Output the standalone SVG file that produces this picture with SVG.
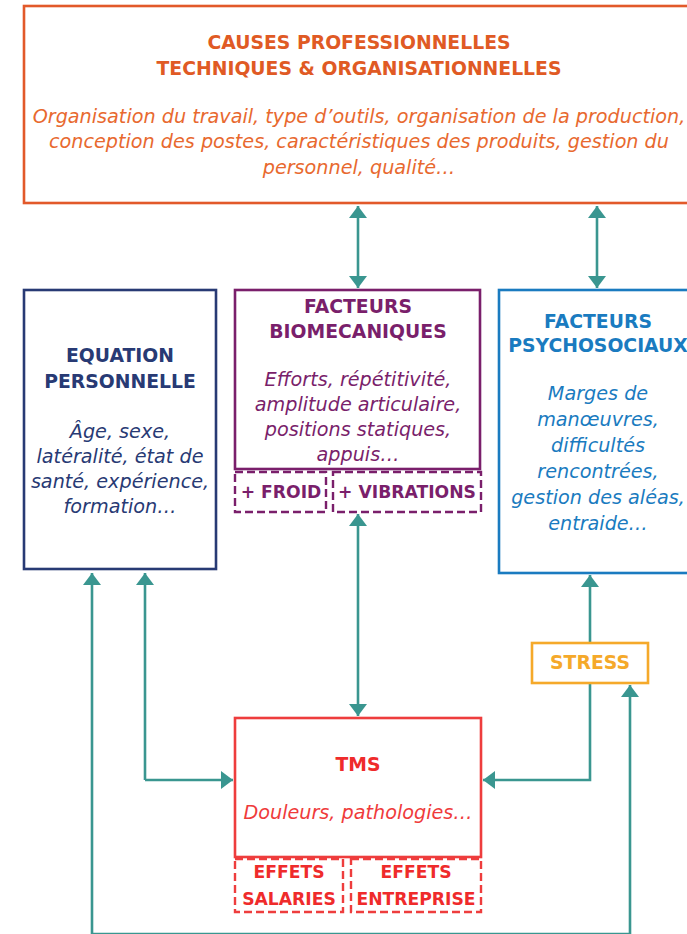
<svg xmlns="http://www.w3.org/2000/svg" width="687" height="934" viewBox="0 0 687 934">
<defs>
<marker id="ah" markerUnits="userSpaceOnUse" markerWidth="14" markerHeight="20" viewBox="0 -10 14 20" refX="12" refY="0" orient="auto-start-reverse">
<path d="M0,-9 L12,0 L0,9 z" fill="#3A9690"/>
</marker>
<style>
.t{font-family:"DejaVu Sans","Liberation Sans",sans-serif;font-weight:700;font-size:18.8px;text-anchor:middle}
.s{font-size:17.2px}
.b{font-family:"DejaVu Sans","Liberation Sans",sans-serif;font-style:italic;font-weight:200;font-size:19.2px;text-anchor:middle}
.c{fill:none;stroke:#3A9690;stroke-width:2.6}
.box{fill:#fff;stroke-width:2.6}
.dash{fill:none;stroke-width:2.4;stroke-dasharray:8 4}
</style>
</defs>
<rect width="687" height="934" fill="#fff"/>
<g id="connectors">
<path class="c" d="M358,206 V288" marker-start="url(#ah)" marker-end="url(#ah)"/>
<path class="c" d="M597,206 V288" marker-start="url(#ah)" marker-end="url(#ah)"/>
<path class="c" d="M358,514 V716" marker-start="url(#ah)" marker-end="url(#ah)"/>
<path class="c" d="M145,780 H233" marker-end="url(#ah)"/>
<path class="c" d="M145,780 V573" marker-end="url(#ah)"/>
<path class="c" d="M92,934 V573" marker-end="url(#ah)"/>
<path class="c" d="M92,934 H630 V685" marker-end="url(#ah)"/>
<path class="c" d="M590,683 V780 H483" marker-end="url(#ah)"/>
<path class="c" d="M590,643 V575" marker-end="url(#ah)"/>
</g>
<g id="causes">
<rect class="box" x="24" y="6" width="675" height="197" stroke="#E2592A"/>
<text class="t" fill="#E05A24"><tspan x="359" y="49">CAUSES PROFESSIONNELLES</tspan><tspan x="359" y="75">TECHNIQUES &amp; ORGANISATIONNELLES</tspan></text>
<text class="b" fill="#E8692F"><tspan x="359" y="123">Organisation du travail, type d’outils, organisation de la production,</tspan><tspan x="359" y="148">conception des postes, caractéristiques des produits, gestion du</tspan><tspan x="359" y="174">personnel, qualité…</tspan></text>
</g>
<g id="equation">
<rect class="box" x="24" y="290" width="192" height="279" stroke="#283A74"/>
<text class="t" fill="#283A74"><tspan x="120" y="362">EQUATION</tspan><tspan x="120" y="388">PERSONNELLE</tspan></text>
<text class="b" fill="#283A74"><tspan x="120" y="438">Âge, sexe,</tspan><tspan x="120" y="463">latéralité, état de</tspan><tspan x="120" y="488">santé, expérience,</tspan><tspan x="120" y="513">formation…</tspan></text>
</g>
<g id="biomecaniques">
<rect class="box" x="235" y="290" width="245" height="179" stroke="#7A1F6B"/>
<text class="t" fill="#7A1F6B"><tspan x="358" y="313">FACTEURS</tspan><tspan x="358" y="338">BIOMECANIQUES</tspan></text>
<text class="b" fill="#7A1F6B"><tspan x="358" y="386">Efforts, répétitivité,</tspan><tspan x="358" y="411">amplitude articulaire,</tspan><tspan x="358" y="436">positions statiques,</tspan><tspan x="358" y="461">appuis…</tspan></text>
</g>
<g id="froid">
<rect class="dash" x="235" y="472" width="91" height="40" stroke="#7A1F6B"/>
<text class="t s" fill="#7A1F6B" x="281" y="498">+ FROID</text>
</g>
<g id="vibrations">
<rect class="dash" x="333" y="472" width="148" height="40" stroke="#7A1F6B"/>
<text class="t s" fill="#7A1F6B" x="407" y="498">+ VIBRATIONS</text>
</g>
<g id="psychosociaux">
<rect class="box" x="499" y="290" width="200" height="283" stroke="#1A7BC0"/>
<text class="t" fill="#1A7BC0"><tspan x="598" y="328">FACTEURS</tspan><tspan x="598" y="352">PSYCHOSOCIAUX</tspan></text>
<text class="b" fill="#1A7BC0"><tspan x="598" y="400">Marges de</tspan><tspan x="598" y="426">manœuvres,</tspan><tspan x="598" y="452">difficultés</tspan><tspan x="598" y="478">rencontrées,</tspan><tspan x="598" y="504">gestion des aléas,</tspan><tspan x="598" y="530">entraide…</tspan></text>
</g>
<g id="stress">
<rect class="box" x="532" y="643" width="116" height="40" stroke="#F5A92A"/>
<text class="t" fill="#F5A92A" x="590" y="669">STRESS</text>
</g>
<g id="tms">
<rect class="box" x="235" y="718" width="246" height="139" stroke="#EE3D3D"/>
<text class="t" fill="#EF2B2B" x="358" y="771">TMS</text>
<text class="b" fill="#EF3B3B" x="358" y="819">Douleurs, pathologies…</text>
</g>
<g id="salaries">
<rect class="dash" x="235" y="859" width="108" height="53" stroke="#EE3D3D"/>
<text class="t s" fill="#EF2B2B"><tspan x="289" y="878">EFFETS</tspan><tspan x="289" y="905">SALARIES</tspan></text>
</g>
<g id="entreprise">
<rect class="dash" x="351" y="859" width="130" height="53" stroke="#EE3D3D"/>
<text class="t s" fill="#EF2B2B"><tspan x="416" y="878">EFFETS</tspan><tspan x="416" y="905">ENTREPRISE</tspan></text>
</g>
</svg>
